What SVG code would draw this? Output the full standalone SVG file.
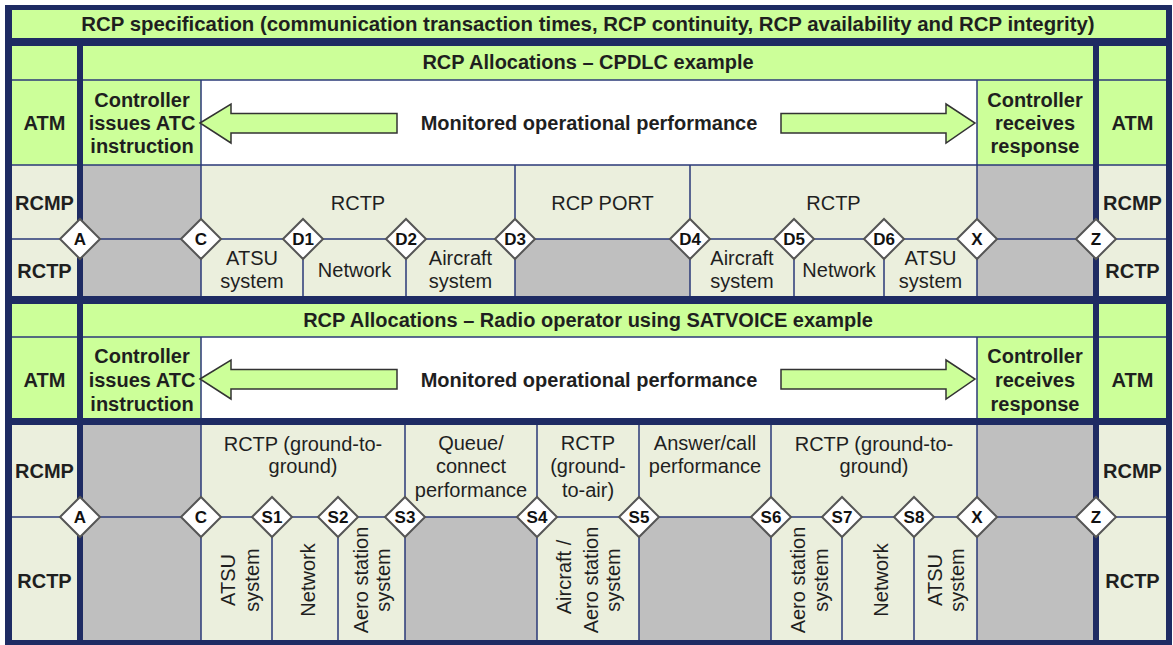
<svg xmlns="http://www.w3.org/2000/svg" width="1173" height="645" viewBox="0 0 1173 645">
<style>
.bg{fill:#1E2B63}
.g{fill:#CCFF99}
.l{fill:#EBEFDD}
.w{fill:#FFFFFF}
.gr{fill:#BFBFBF}
.ln{stroke:#2B3A78;stroke-width:1.5;fill:none}
.t{font-family:"Liberation Sans",Arial,sans-serif;font-size:20px;fill:#1F1F1F;text-anchor:middle}
.b{font-weight:bold}
.tt{font-size:20.4px}
.dia{fill:#FFFFFF;stroke:#555555;stroke-width:2}
.dt{font-family:"Liberation Sans",Arial,sans-serif;font-size:17px;font-weight:bold;fill:#111111;text-anchor:middle}
.arr{fill:#CCFF99;stroke:#333333;stroke-width:1.5}
</style>
<rect x="5" y="5" width="1167" height="640" class="bg"/>

<g id="title">
<rect x="12" y="10" width="1154" height="28" class="g"/>
<text x="588" y="31" class="t b tt">RCP specification (communication transaction times, RCP continuity, RCP availability and RCP integrity)</text>
</g>

<!-- Section 1 -->
<g id="s1-left">
<rect x="12" y="46" width="65" height="34" class="g"/>
<rect x="12" y="80" width="65" height="85" class="g"/>
<rect x="12" y="165" width="65" height="131" class="l"/>
<text x="44.5" y="130" class="t b">ATM</text>
<text x="44.5" y="210" class="t b">RCMP</text>
<text x="44.5" y="278" class="t b">RCTP</text>
</g>
<g id="s1-right">
<rect x="1099" y="46" width="67" height="34" class="g"/>
<rect x="1099" y="80" width="67" height="85" class="g"/>
<rect x="1099" y="165" width="67" height="131" class="l"/>
<text x="1132.5" y="130" class="t b">ATM</text>
<text x="1132.5" y="210" class="t b">RCMP</text>
<text x="1132.5" y="278" class="t b">RCTP</text>
</g>
<g id="s1-header">
<rect x="83" y="46" width="1010" height="34" class="g"/>
<text x="588" y="69" class="t b">RCP Allocations – CPDLC example</text>
</g>
<g id="s1-issues">
<rect x="83" y="80" width="118" height="85" class="g"/>
<text x="142" y="107" class="t b">Controller</text>
<text x="142" y="130" class="t b">issues ATC</text>
<text x="142" y="153" class="t b">instruction</text>
</g>
<g id="s1-monitored">
<rect x="201" y="80" width="776" height="85" class="w"/>
<text x="589" y="130" class="t b">Monitored operational performance</text>
</g>
<g id="s1-receives">
<rect x="977" y="80" width="116" height="85" class="g"/>
<text x="1035" y="107" class="t b">Controller</text>
<text x="1035" y="130" class="t b">receives</text>
<text x="1035" y="153" class="t b">response</text>
</g>
<g id="s1-lower">
<rect x="83" y="165" width="118" height="131" class="gr"/>
<rect x="201" y="165" width="776" height="131" class="l"/>
<rect x="977" y="165" width="116" height="131" class="gr"/>
<rect x="515" y="239" width="175" height="57" class="gr"/>
<text x="358" y="210" class="t">RCTP</text>
<text x="602.5" y="210" class="t">RCP PORT</text>
<text x="833.5" y="210" class="t">RCTP</text>
<text x="252" y="265" class="t">ATSU</text>
<text x="252" y="288" class="t">system</text>
<text x="354.5" y="277" class="t">Network</text>
<text x="460.5" y="265" class="t">Aircraft</text>
<text x="460.5" y="288" class="t">system</text>
<text x="742" y="265" class="t">Aircraft</text>
<text x="742" y="288" class="t">system</text>
<text x="839" y="277" class="t">Network</text>
<text x="930.5" y="265" class="t">ATSU</text>
<text x="930.5" y="288" class="t">system</text>
</g>

<!-- Section 2 -->
<g id="s2-left">
<rect x="12" y="304" width="65" height="33" class="g"/>
<rect x="12" y="337" width="65" height="81" class="g"/>
<rect x="12" y="425" width="65" height="215" class="l"/>
<text x="44.5" y="387" class="t b">ATM</text>
<text x="44.5" y="478" class="t b">RCMP</text>
<text x="44.5" y="588" class="t b">RCTP</text>
</g>
<g id="s2-right">
<rect x="1099" y="304" width="67" height="33" class="g"/>
<rect x="1099" y="337" width="67" height="81" class="g"/>
<rect x="1099" y="425" width="67" height="215" class="l"/>
<text x="1132.5" y="387" class="t b">ATM</text>
<text x="1132.5" y="478" class="t b">RCMP</text>
<text x="1132.5" y="588" class="t b">RCTP</text>
</g>
<g id="s2-header">
<rect x="83" y="304" width="1010" height="33" class="g"/>
<text x="588" y="327" class="t b">RCP Allocations – Radio operator using SATVOICE example</text>
</g>
<g id="s2-issues">
<rect x="83" y="337" width="118" height="81" class="g"/>
<text x="142" y="363" class="t b">Controller</text>
<text x="142" y="387" class="t b">issues ATC</text>
<text x="142" y="411" class="t b">instruction</text>
</g>
<g id="s2-monitored">
<rect x="201" y="337" width="776" height="81" class="w"/>
<text x="589" y="387" class="t b">Monitored operational performance</text>
</g>
<g id="s2-receives">
<rect x="977" y="337" width="116" height="81" class="g"/>
<text x="1035" y="363" class="t b">Controller</text>
<text x="1035" y="387" class="t b">receives</text>
<text x="1035" y="411" class="t b">response</text>
</g>
<g id="s2-lower">
<rect x="83" y="425" width="118" height="215" class="gr"/>
<rect x="201" y="425" width="776" height="215" class="l"/>
<rect x="977" y="425" width="116" height="215" class="gr"/>
<rect x="405" y="517" width="132" height="123" class="gr"/>
<rect x="639" y="517" width="132" height="123" class="gr"/>
<text x="303" y="451" class="t">RCTP (ground-to-</text>
<text x="303" y="473" class="t">ground)</text>
<text x="471" y="450" class="t">Queue/</text>
<text x="471" y="473" class="t">connect</text>
<text x="471" y="497" class="t">performance</text>
<text x="588" y="450" class="t">RCTP</text>
<text x="588" y="473" class="t">(ground-</text>
<text x="588" y="497" class="t">to-air)</text>
<text x="705" y="450" class="t">Answer/call</text>
<text x="705" y="473" class="t">performance</text>
<text x="874" y="451" class="t">RCTP (ground-to-</text>
<text x="874" y="473" class="t">ground)</text>
<text transform="translate(235,580) rotate(-90)" class="t">ATSU</text>
<text transform="translate(259,580) rotate(-90)" class="t">system</text>
<text transform="translate(315,580) rotate(-90)" class="t">Network</text>
<text transform="translate(368,580) rotate(-90)" class="t">Aero station</text>
<text transform="translate(390,580) rotate(-90)" class="t">system</text>
<text transform="translate(571,577) rotate(-90)" class="t">Aircraft /</text>
<text transform="translate(598,580) rotate(-90)" class="t">Aero station</text>
<text transform="translate(620,580) rotate(-90)" class="t">system</text>
<text transform="translate(805,580) rotate(-90)" class="t">Aero station</text>
<text transform="translate(828,580) rotate(-90)" class="t">system</text>
<text transform="translate(888,580) rotate(-90)" class="t">Network</text>
<text transform="translate(942,580) rotate(-90)" class="t">ATSU</text>
<text transform="translate(964,580) rotate(-90)" class="t">system</text>
</g>

<g id="grid-lines" class="ln">
<!-- section 1 -->
<path d="M12 80H77M83 80H1093M1099 80H1166"/>
<path d="M12 165H77M83 165H1093M1099 165H1166"/>
<path d="M12 239H77M83 239H1093M1099 239H1166"/>
<path d="M201 80V296M977 80V296M515 165V296M690 165V296"/>
<path d="M303 239V296M406 239V296M794 239V296M884 239V296"/>
<!-- section 2 -->
<path d="M12 337H77M83 337H1093M1099 337H1166"/>
<path d="M12 517H77M83 517H1093M1099 517H1166"/>
<path d="M201 337V418M977 337V418"/>
<path d="M201 425V640M977 425V640M405 425V640M537 425V640M639 425V640M771 425V640"/>
<path d="M272 517V640M338 517V640M842 517V640M914 517V640"/>
</g>

<g id="connectors">
<polygon class="arr" points="200,123 231,104 231,113.5 397,113.5 397,133 231,133 231,143"/>
<polygon class="arr" points="781,113.5 946,113.5 946,104 975,123 946,143 946,133 781,133"/>
<polygon class="arr" points="200,379 231,360 231,369.5 397,369.5 397,389 231,389 231,399"/>
<polygon class="arr" points="781,369.5 946,369.5 946,360 975,379 946,399 946,389 781,389"/>
</g>

<g id="s1-points">
<g id="p1-A"><polygon class="dia" points="60,239 80,219 100,239 80,259"/><text x="80" y="245" class="dt">A</text></g>
<g id="p1-C"><polygon class="dia" points="181,239 201,219 221,239 201,259"/><text x="201" y="245" class="dt">C</text></g>
<g id="p1-D1"><polygon class="dia" points="283,239 303,219 323,239 303,259"/><text x="303" y="245" class="dt">D1</text></g>
<g id="p1-D2"><polygon class="dia" points="386,239 406,219 426,239 406,259"/><text x="406" y="245" class="dt">D2</text></g>
<g id="p1-D3"><polygon class="dia" points="495,239 515,219 535,239 515,259"/><text x="515" y="245" class="dt">D3</text></g>
<g id="p1-D4"><polygon class="dia" points="670,239 690,219 710,239 690,259"/><text x="690" y="245" class="dt">D4</text></g>
<g id="p1-D5"><polygon class="dia" points="774,239 794,219 814,239 794,259"/><text x="794" y="245" class="dt">D5</text></g>
<g id="p1-D6"><polygon class="dia" points="864,239 884,219 904,239 884,259"/><text x="884" y="245" class="dt">D6</text></g>
<g id="p1-X"><polygon class="dia" points="957,239 977,219 997,239 977,259"/><text x="977" y="245" class="dt">X</text></g>
<g id="p1-Z"><polygon class="dia" points="1076,239 1096,219 1116,239 1096,259"/><text x="1096" y="245" class="dt">Z</text></g>
</g>
<g id="s2-points">
<g id="p2-A"><polygon class="dia" points="60,517 80,497 100,517 80,537"/><text x="80" y="523" class="dt">A</text></g>
<g id="p2-C"><polygon class="dia" points="181,517 201,497 221,517 201,537"/><text x="201" y="523" class="dt">C</text></g>
<g id="p2-S1"><polygon class="dia" points="252,517 272,497 292,517 272,537"/><text x="272" y="523" class="dt">S1</text></g>
<g id="p2-S2"><polygon class="dia" points="318,517 338,497 358,517 338,537"/><text x="338" y="523" class="dt">S2</text></g>
<g id="p2-S3"><polygon class="dia" points="385,517 405,497 425,517 405,537"/><text x="405" y="523" class="dt">S3</text></g>
<g id="p2-S4"><polygon class="dia" points="517,517 537,497 557,517 537,537"/><text x="537" y="523" class="dt">S4</text></g>
<g id="p2-S5"><polygon class="dia" points="619,517 639,497 659,517 639,537"/><text x="639" y="523" class="dt">S5</text></g>
<g id="p2-S6"><polygon class="dia" points="751,517 771,497 791,517 771,537"/><text x="771" y="523" class="dt">S6</text></g>
<g id="p2-S7"><polygon class="dia" points="822,517 842,497 862,517 842,537"/><text x="842" y="523" class="dt">S7</text></g>
<g id="p2-S8"><polygon class="dia" points="894,517 914,497 934,517 914,537"/><text x="914" y="523" class="dt">S8</text></g>
<g id="p2-X"><polygon class="dia" points="957,517 977,497 997,517 977,537"/><text x="977" y="523" class="dt">X</text></g>
<g id="p2-Z"><polygon class="dia" points="1076,517 1096,497 1116,517 1096,537"/><text x="1096" y="523" class="dt">Z</text></g>
</g>
</svg>
